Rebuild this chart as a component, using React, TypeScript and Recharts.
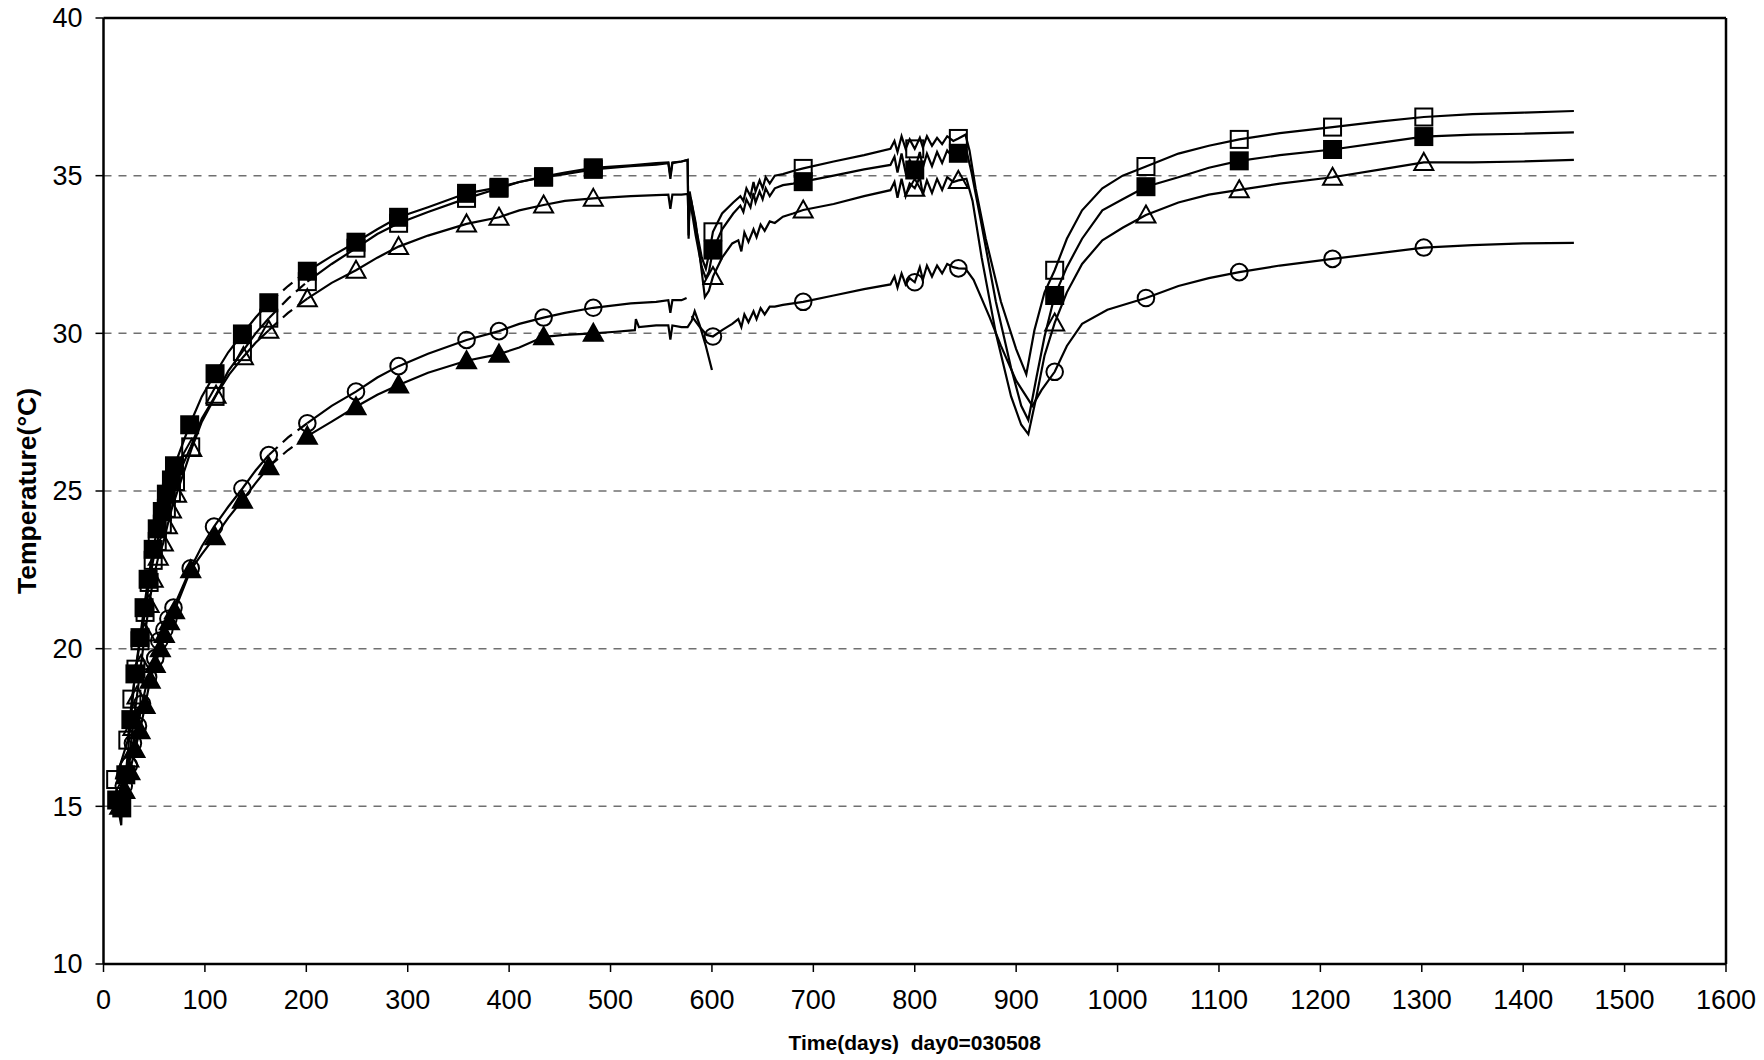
import React from "react";
import { ComposedChart, Line, XAxis, YAxis, CartesianGrid, ReferenceLine } from "recharts";

document.body.style.margin = "0";

type P = [number, number | null];
type Kind = "sq" | "fsq" | "tri" | "ftri" | "circ";

const FONT = "'Liberation Sans', Arial, sans-serif";

const xTicks = [0, 100, 200, 300, 400, 500, 600, 700, 800, 900, 1000, 1100, 1200, 1300, 1400, 1500, 1600];
const yTicks = [10, 15, 20, 25, 30, 35, 40];

// open squares
const sqMarks: P[] = [
  [12, 15.85], [24, 17.1], [28, 18.4], [32, 19.35], [36, 20.25], [41, 21.15], [45, 22.1], [49, 22.8],
  [53, 23.4], [58, 23.95], [62, 24.45], [67, 24.95], [71, 25.3], [86, 26.4], [110, 28.0], [137, 29.42],
  [163, 30.48], [201, 31.64], [249, 32.7], [291, 33.49], [358, 34.28], [390, 34.6], [434, 34.95], [483, 35.2],
  [601, 33.22], [690, 35.23], [800, 35.85], [843, 36.18], [938, 32.0], [1028, 35.29], [1120, 36.15],
  [1212, 36.54], [1302, 36.86],
];
const sqTrace: P[] = [
  [97, 27.3], [123, 28.8], [150, 30.0], [182, 31.1],
  [225, 32.2], [270, 33.15], [320, 33.85], [410, 34.8], [455, 35.05], [520, 35.3], [545, 35.35], [557, 35.4],
  [559, 34.9], [561, 35.4], [570, 35.45], [576, 35.5], [577, 33.1], [578, 34.5], [584, 33.4], [590, 32.4],
  [594, 32.05], [597, 32.5], [610, 33.8], [621, 34.15], [628, 34.35], [631, 34.2], [634, 34.6], [638, 34.35],
  [641, 34.8], [643, 34.5], [647, 34.85], [650, 34.6], [653, 34.95], [657, 34.75], [662, 35.0], [670, 35.05],
  [680, 35.15], [720, 35.45], [750, 35.65], [776, 35.85], [780, 36.1], [783, 35.75], [787, 36.25], [791, 35.85],
  [795, 36.15], [805, 36.2], [808, 35.9], [812, 36.25], [817, 35.95], [822, 36.2], [827, 36.0], [832, 36.25],
  [838, 36.1], [850, 36.3], [854, 35.8], [860, 34.6], [870, 33.0], [885, 31.0], [900, 29.5], [910, 28.7],
  [918, 30.1], [928, 31.3], [950, 33.0], [965, 33.9], [985, 34.6], [1005, 35.0], [1060, 35.7], [1090, 35.95],
  [1160, 36.35], [1260, 36.72], [1350, 36.95], [1400, 37.0], [1450, 37.05],
];

// filled squares
const fsqMarks: P[] = [
  [13, 15.2], [18, 14.95], [22, 16.0], [27, 17.75], [31, 19.2], [36, 20.35], [40, 21.3], [44, 22.2],
  [49, 23.15], [53, 23.8], [58, 24.35], [62, 24.9], [67, 25.35], [70, 25.8], [85, 27.1], [110, 28.72],
  [137, 29.98], [163, 30.97], [201, 31.97], [249, 32.89], [291, 33.68], [358, 34.44], [390, 34.63],
  [434, 34.97], [483, 35.25], [601, 32.64], [690, 34.81], [800, 35.18], [843, 35.71], [938, 31.2],
  [1028, 34.65], [1120, 35.47], [1212, 35.83], [1302, 36.24],
];
const fsqTrace: P[] = [
  [17.5, 14.4], [97, 28.0], [123, 29.4], [150, 30.5], [182, 31.5],
  [225, 32.45], [270, 33.3], [320, 34.0], [410, 34.8], [455, 35.1], [520, 35.33], [545, 35.4], [557, 35.42],
  [559, 35.0], [561, 35.42], [570, 35.45], [576, 35.5], [577, 33.0], [578, 34.3], [584, 33.1], [590, 32.1],
  [594, 31.75], [597, 31.95], [610, 33.3], [621, 33.8], [628, 34.05], [631, 33.85], [634, 34.25], [638, 34.0],
  [641, 34.45], [643, 34.15], [647, 34.5], [650, 34.25], [653, 34.6], [657, 34.35], [662, 34.6], [670, 34.7],
  [680, 34.75], [720, 35.0], [750, 35.2], [776, 35.34], [780, 35.6], [783, 35.1], [787, 35.7], [791, 35.1],
  [795, 35.5], [805, 35.75], [808, 35.25], [812, 35.7], [817, 35.3], [822, 35.75], [827, 35.4], [832, 35.8],
  [838, 35.55], [851, 35.8], [856, 35.1], [865, 33.6], [880, 31.0], [895, 28.9], [905, 27.7], [912, 27.25],
  [920, 28.6], [928, 29.9], [950, 32.1], [965, 33.0], [985, 33.9], [1005, 34.25], [1060, 34.95], [1090, 35.25],
  [1160, 35.65], [1260, 36.05], [1350, 36.3], [1400, 36.33], [1450, 36.37],
];

// open triangles
const triMarks: P[] = [
  [16, 15.4], [25, 16.5], [29, 17.5], [33, 18.5], [37, 19.5], [41, 20.5], [45, 21.4], [49, 22.2],
  [54, 22.9], [59, 23.35], [63, 23.9], [67, 24.4], [72, 24.9], [87, 26.35], [111, 28.04], [138, 29.26],
  [163, 30.1], [201, 31.1], [249, 32.0], [291, 32.75], [358, 33.47], [390, 33.68], [434, 34.07], [483, 34.28],
  [601, 31.8], [690, 33.91], [800, 34.6], [843, 34.85], [938, 30.33], [1028, 33.75], [1120, 34.55],
  [1212, 34.95], [1302, 35.42],
];
const triTrace: P[] = [
  [97, 27.2], [124, 28.7], [150, 29.7], [182, 30.65],
  [225, 31.6], [270, 32.4], [320, 33.1], [410, 33.9], [455, 34.2], [520, 34.35], [545, 34.38], [557, 34.4],
  [559, 33.95], [561, 34.4], [570, 34.4], [576, 34.42], [577, 33.6], [579, 34.3], [584, 33.5], [589, 32.2],
  [593, 31.15], [597, 31.35], [610, 32.4], [620, 32.85], [626, 32.95], [629, 32.6], [632, 33.2], [636, 32.9],
  [641, 33.3], [644, 33.05], [648, 33.45], [652, 33.25], [657, 33.55], [662, 33.5], [670, 33.7], [680, 33.8],
  [720, 34.1], [750, 34.35], [776, 34.54], [780, 34.8], [783, 34.3], [787, 34.9], [791, 34.35], [795, 34.75],
  [805, 34.95], [808, 34.4], [812, 34.85], [817, 34.45], [822, 34.9], [827, 34.55], [832, 34.95], [838, 34.8],
  [851, 34.9], [857, 34.2], [866, 32.4], [880, 30.0], [895, 28.0], [905, 27.1], [912, 26.8], [920, 28.0],
  [928, 29.3], [950, 31.3], [965, 32.2], [985, 32.95], [1005, 33.35], [1060, 34.15], [1090, 34.4],
  [1160, 34.75], [1260, 35.2], [1350, 35.42], [1400, 35.45], [1450, 35.5],
];

// open circles
const circMarks: P[] = [
  [15, 15.1], [20, 15.65], [25, 16.3], [29, 17.0], [34, 17.55], [38, 18.25], [44, 19.1], [51, 19.7],
  [55, 20.25], [60, 20.6], [64, 20.95], [69, 21.3], [86, 22.55], [109, 23.87], [137, 25.08], [163, 26.14],
  [201, 27.15], [249, 28.15], [291, 28.96], [358, 29.79], [390, 30.07], [434, 30.5], [483, 30.81],
  [601, 29.9], [690, 31.0], [800, 31.62], [843, 32.06], [938, 28.78], [1028, 31.12], [1120, 31.94],
  [1212, 32.36], [1302, 32.72],
];
const circTrace: P[] = [
  [97, 23.25], [123, 24.5], [150, 25.65], [182, 26.7],
  [225, 27.7], [270, 28.6], [320, 29.35], [410, 30.3], [455, 30.65], [520, 30.95], [545, 31.0], [557, 31.05],
  [559, 30.65], [561, 31.05], [570, 31.05], [575, 31.12], [577, null], [580, 30.55], [588, 30.2], [595, 29.95],
  [610, 30.1], [620, 30.3], [626, 30.45], [629, 30.2], [632, 30.6], [636, 30.35], [641, 30.7], [644, 30.45],
  [648, 30.8], [652, 30.6], [657, 30.85], [662, 30.85], [670, 30.9], [680, 30.95], [720, 31.2], [750, 31.4],
  [776, 31.55], [780, 31.8], [783, 31.45], [787, 31.9], [791, 31.55], [795, 31.75], [805, 32.1], [808, 31.7],
  [812, 32.15], [817, 31.8], [822, 32.15], [827, 31.9], [832, 32.2], [838, 32.1], [850, 32.05], [858, 31.7],
  [866, 31.1], [874, 30.5], [885, 29.6], [900, 28.5], [916, 27.7], [925, 28.2], [950, 29.6], [965, 30.3],
  [990, 30.75], [1060, 31.5], [1090, 31.75], [1160, 32.15], [1260, 32.55], [1350, 32.8], [1400, 32.85],
  [1450, 32.87],
];

// filled triangles
const ftriMarks: P[] = [
  [16, 15.0], [21, 15.5], [26, 16.1], [31, 16.8], [36, 17.4], [41, 18.2], [46, 19.0], [51, 19.5],
  [56, 20.0], [60, 20.45], [65, 20.85], [70, 21.2], [86, 22.5], [110, 23.55], [137, 24.71], [163, 25.77],
  [201, 26.74], [249, 27.67], [291, 28.36], [358, 29.13], [390, 29.34], [434, 29.89], [483, 30.0],
];
const ftriTrace: P[] = [
  [97, 23.0], [123, 24.15], [150, 25.25], [182, 26.3],
  [225, 27.2], [270, 28.05], [320, 28.75], [410, 29.55], [455, 29.95], [505, 30.05], [524, 30.1], [525, 30.45],
  [528, 30.2], [545, 30.25], [557, 30.25], [559, 29.8], [561, 30.25], [570, 30.2], [576, 30.2], [580, 30.4],
  [583, 30.7], [588, 30.25], [594, 29.6], [600, 28.84],
];

type Row = { d: number; t: number | null; m?: boolean };

function build(marks: P[], trace: P[]) {
  const rows: Row[] = [
    ...marks.map(([d, t]) => ({ d, t, m: true })),
    ...trace.map(([d, t]) => ({ d, t })),
  ].sort((a, b) => a.d - b.d);
  return {
    early: rows.filter((r) => r.d <= 163),
    bridge: rows.filter((r) => r.d >= 163 && r.d <= 201),
    late: rows.filter((r) => r.d >= 201),
  };
}

const series: { id: Kind; marks: P[]; trace: P[] }[] = [
  { id: "circ", marks: circMarks, trace: circTrace },
  { id: "ftri", marks: ftriMarks, trace: ftriTrace },
  { id: "tri", marks: triMarks, trace: triTrace },
  { id: "sq", marks: sqMarks, trace: sqTrace },
  { id: "fsq", marks: fsqMarks, trace: fsqTrace },
];

function markerDot(kind: Kind) {
  return (props: any) => {
    const { cx, cy, payload, index } = props;
    const key = `${kind}-${index}`;
    if (!payload || !payload.m || cx == null || cy == null) return <g key={key} />;
    const fill = kind === "fsq" || kind === "ftri" ? "#000" : "none";
    if (kind === "sq" || kind === "fsq") {
      return <rect key={key} x={cx - 8.5} y={cy - 8.5} width={17} height={17} fill={fill} stroke="#000" strokeWidth={2} />;
    }
    if (kind === "circ") {
      return <circle key={key} cx={cx} cy={cy} r={8.3} fill="none" stroke="#000" strokeWidth={2} />;
    }
    return (
      <polygon
        key={key}
        points={`${cx},${cy - 9.5} ${cx + 9.5},${cy + 7.5} ${cx - 9.5},${cy + 7.5}`}
        fill={fill}
        stroke="#000"
        strokeWidth={2}
      />
    );
  };
}

const XTick = (p: any) => (
  <text x={p.x} y={p.y + 35} textAnchor="middle" fontFamily={FONT} fontSize={27} fill="#000">
    {p.payload.value}
  </text>
);

const YTick = (p: any) => (
  <text x={p.x - 11} y={p.y} dy="0.35em" textAnchor="end" fontFamily={FONT} fontSize={27} fill="#000">
    {p.payload.value}
  </text>
);

const XTitle = () => (
  <text x={914.75} y={1050} textAnchor="middle" fontFamily={FONT} fontSize={21} fontWeight="bold" fill="#000" style={{ whiteSpace: "pre" }}>
    {"Time(days)  day0=030508"}
  </text>
);

const YTitle = () => (
  <text
    x={27}
    y={491}
    transform="rotate(-90 27 491)"
    textAnchor="middle"
    dominantBaseline="central"
    fontFamily={FONT}
    fontSize={26.5}
    fontWeight="bold"
    fill="#000"
  >
    Temperature(°C)
  </text>
);

export default function App() {
  const lines = series.flatMap((s) => {
    const seg = build(s.marks, s.trace);
    return [
      <Line key={`${s.id}-a`} data={seg.early} dataKey="t" type="linear" stroke="#000" strokeWidth={2.2}
        dot={markerDot(s.id)} activeDot={false} isAnimationActive={false} connectNulls={false} />,
      <Line key={`${s.id}-b`} data={seg.bridge} dataKey="t" type="linear" stroke="#000" strokeWidth={2.2}
        strokeDasharray="12 7" dot={false} activeDot={false} isAnimationActive={false} />,
      <Line key={`${s.id}-c`} data={seg.late} dataKey="t" type="linear" stroke="#000" strokeWidth={2.2}
        dot={markerDot(s.id)} activeDot={false} isAnimationActive={false} connectNulls={false} />,
    ];
  });

  return (
    <div style={{ width: 1764, height: 1060, background: "#fff" }}>
      <ComposedChart width={1764} height={1060} margin={{ top: 18, right: 38, bottom: 0, left: 0 }}>
        <CartesianGrid vertical={false} stroke="#707070" strokeWidth={1.5} strokeDasharray="8 7" />
        <XAxis
          dataKey="d"
          type="number"
          domain={[0, 1600]}
          ticks={xTicks}
          interval={0}
          allowDataOverflow
          height={96}
          tickSize={8}
          tickLine={{ stroke: "#000", strokeWidth: 1.5 }}
          axisLine={{ stroke: "#000", strokeWidth: 2.5 }}
          tick={XTick}
          label={<XTitle />}
        />
        <YAxis
          type="number"
          domain={[10, 40]}
          ticks={yTicks}
          interval={0}
          allowDataOverflow
          width={103.5}
          tickSize={8}
          tickLine={{ stroke: "#000", strokeWidth: 1.5 }}
          axisLine={{ stroke: "#000", strokeWidth: 2.5 }}
          tick={YTick}
          label={<YTitle />}
        />
        <ReferenceLine y={40} stroke="#000" strokeWidth={2.5} />
        <ReferenceLine x={1600} stroke="#000" strokeWidth={2.5} />
        {lines}
      </ComposedChart>
    </div>
  );
}
